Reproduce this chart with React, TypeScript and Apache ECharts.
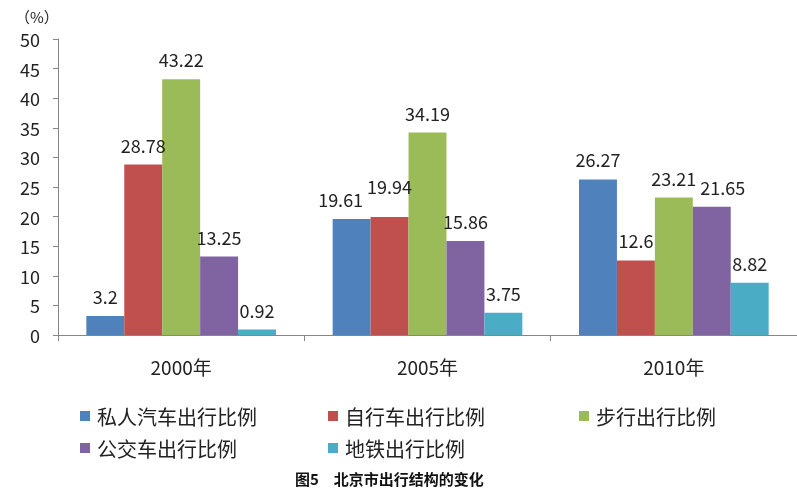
import React, { useEffect, useRef } from "react";
import * as echarts from "echarts";

const categories = ["2000年", "2005年", "2010年"];
const seriesNames = ["私人汽车出行比例", "自行车出行比例", "步行出行比例", "公交车出行比例", "地铁出行比例"];
const carValues = [3.2, 19.61, 26.27];
const bikeValues = [28.78, 19.94, 12.6];
const walkValues = [43.22, 34.19, 23.21];
const busValues = [13.25, 15.86, 21.65];
const subwayValues = [0.92, 3.75, 8.82];
const colors = ["#4F81BD", "#C0504D", "#9BBB59", "#8064A2", "#4BACC6"];
const yTicks = { min: 0, max: 50, interval: 5 };
const titleText = "图5　北京市出行结构的变化";
const unitText = "（%）";

const FONT = "'Noto Sans CJK SC', 'DejaVu Sans', sans-serif";

// label nudges [seriesIndex-categoryIndex] -> [dx, dy]
const labelNudges: Record<string, [number, number]> = {
  "0-1": [-11, 0],
  "1-1": [0, -11],
  "3-2": [11, 0],
};

export default function App() {
  const ref = useRef<HTMLDivElement>(null);
  useEffect(() => {
    if (!ref.current) return;
    const chart = echarts.init(ref.current, null, { renderer: "svg" });
    const allValues = [carValues, bikeValues, walkValues, busValues, subwayValues];
    const legendPos = [
      { left: 75, top: 401 },
      { left: 323, top: 401 },
      { left: 574, top: 401 },
      { left: 75, top: 433 },
      { left: 323, top: 433 },
    ];
    chart.setOption({
      animation: false,
      textStyle: { fontFamily: FONT },
      grid: { left: 58, top: 39, width: 744, height: 296 },
      xAxis: {
        type: "category",
        data: categories,
        axisLine: { lineStyle: { color: "#868686" } },
        axisTick: { show: true, length: 6, lineStyle: { color: "#868686" } },
        axisLabel: { color: "#222", fontSize: 19, margin: 22, fontFamily: FONT },
      },
      yAxis: {
        type: "value",
        min: yTicks.min,
        max: yTicks.max,
        interval: yTicks.interval,
        splitLine: { show: false },
        axisLine: { show: true, lineStyle: { color: "#868686" } },
        axisTick: { show: true, length: 5, lineStyle: { color: "#868686" } },
        axisLabel: { color: "#222", fontSize: 18, margin: 18, fontFamily: FONT },
      },
      legend: seriesNames.map((n, i) => ({
        data: [n],
        left: legendPos[i].left,
        top: legendPos[i].top,
        icon: "rect",
        itemWidth: 10,
        itemHeight: 10,
        itemGap: 0,
        textStyle: { fontSize: 20, color: "#222", fontFamily: FONT, padding: [0, 0, 0, 2] },
        selectedMode: false,
      })),
      graphic: [
        {
          type: "text",
          x: 15,
          y: 16,
          style: { text: unitText, fontSize: 15, fill: "#222", fontFamily: FONT, verticalAlign: "middle" },
        },
        {
          type: "text",
          x: 295,
          y: 478,
          style: {
            text: titleText,
            fontSize: 15,
            lineHeight: 15,
            fontWeight: "bold",
            fill: "#111",
            fontFamily: FONT,
            verticalAlign: "middle",
            align: "left",
          },
        },
      ],
      series: seriesNames.map((n, i) => ({
        name: n,
        type: "bar",
        data: allValues[i].map((v, j) => {
          const nudge = labelNudges[`${i}-${j}`];
          return nudge ? { value: v, label: { offset: nudge } } : v;
        }),
        barGap: "0%",
        barCategoryGap: "23%",
        itemStyle: { color: colors[i] },
        label: {
          show: true,
          position: "top",
          distance: 11,
          fontSize: 18,
          color: "#222",
          fontFamily: FONT,
        },
      })),
    });
    return () => chart.dispose();
  }, []);
  return (
    <div style={{ position: "fixed", left: 0, top: 0, width: 797, height: 488 }}>
      <div ref={ref} style={{ width: 797, height: 488 }} />
    </div>
  );
}
